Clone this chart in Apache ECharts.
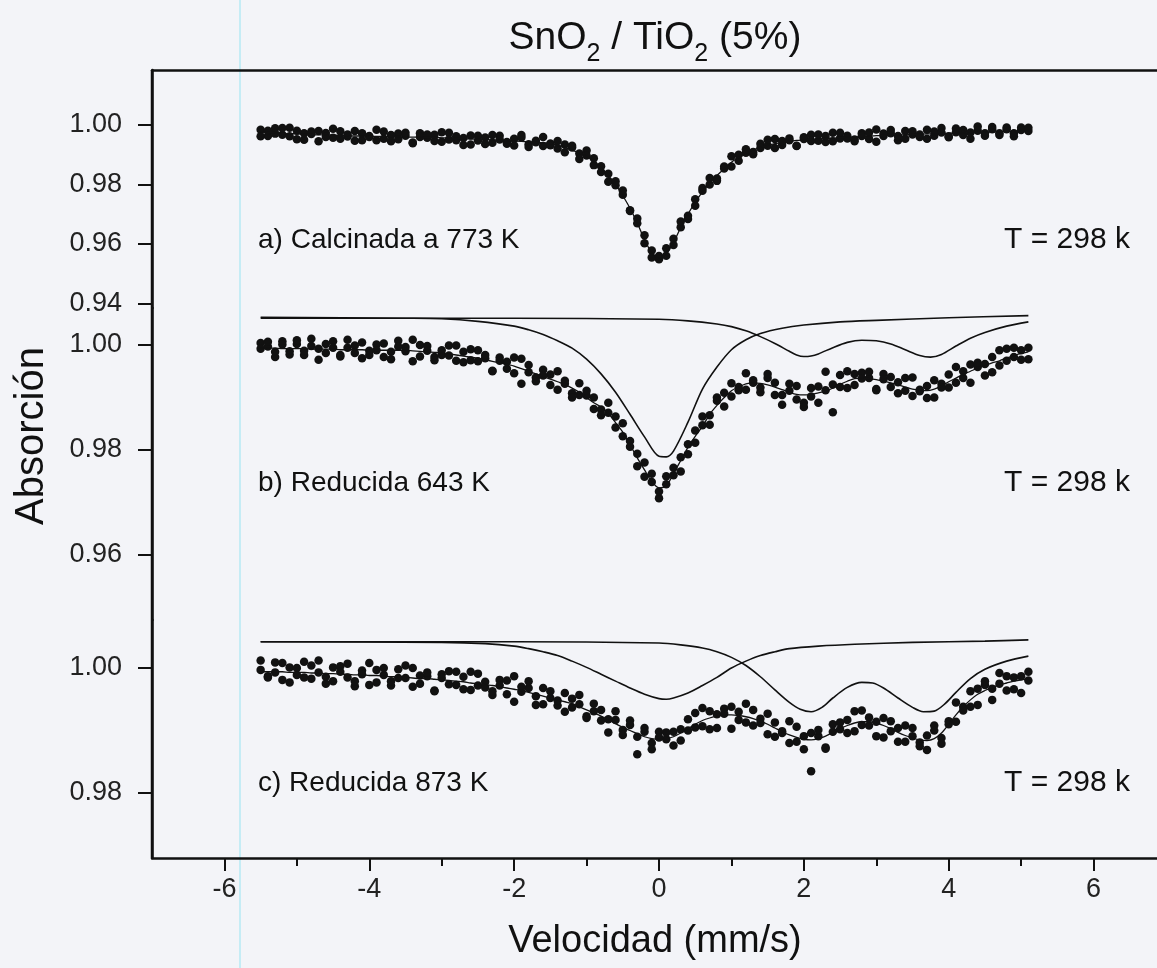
<!DOCTYPE html>
<html>
<head>
<meta charset="utf-8">
<script src="https://cdn.jsdelivr.net/npm/echarts@6.0.0/dist/echarts.min.js"></script>
<style>
  html, body { margin: 0; padding: 0; background: #f3f4f8; }
  #chart { width: 1157px; height: 968px; }
</style>
</head>
<body>
<div id="chart"></div>
<script>
// velocity channels (mm/s), shared by the three spectra
const velocity = [
  -5.5, -5.4, -5.3, -5.2, -5.1, -5.0, -4.9, -4.8, -4.7, -4.6,
  -4.5, -4.4, -4.3, -4.2, -4.1, -4.0, -3.9, -3.8, -3.7, -3.6,
  -3.5, -3.4, -3.3, -3.2, -3.1, -3.0, -2.9, -2.8, -2.7, -2.6,
  -2.5, -2.4, -2.3, -2.2, -2.1, -2.0, -1.9, -1.8, -1.7, -1.6,
  -1.5, -1.4, -1.3, -1.2, -1.1, -1.0, -0.9, -0.8, -0.7, -0.6,
  -0.5, -0.4, -0.3, -0.2, -0.1, 0.0, 0.1, 0.2, 0.3, 0.4,
  0.5, 0.6, 0.7, 0.8, 0.9, 1.0, 1.1, 1.2, 1.3, 1.4,
  1.5, 1.6, 1.7, 1.8, 1.9, 2.0, 2.1, 2.2, 2.3, 2.4,
  2.5, 2.6, 2.7, 2.8, 2.9, 3.0, 3.1, 3.2, 3.3, 3.4,
  3.5, 3.6, 3.7, 3.8, 3.9, 4.0, 4.1, 4.2, 4.3, 4.4,
  4.5, 4.6, 4.7, 4.8, 4.9, 5.0, 5.1
]

// a) Calcinada a 773 K
const absA1 = [
  .9984, .9963, .9989, .9967, .9991, .9952, .9972, .9978, .9945, .9973,
  .9957, .9979, .9961, .9980, .9949, .9963, .9984, .9954, .9945, .9971,
  .9964, .9939, .9972, .9957, .9967, .9944, .9974, .9949, .9956, .9934,
  .9964, .9958, .9940, .9964, .9943, .9931, .9966, .9935, .9947, .9929,
  .9938, .9946, .9908, .9924, .9904, .9914, .9865, .9861, .9809, .9811,
  .9765, .9713, .9685, .9602, .9578, .9548, .9585, .9596, .9656, .9684,
  .9750, .9788, .9800, .9812, .9860, .9895, .9880, .9907, .9902, .9937,
  .9930, .9953, .9933, .9949, .9929, .9959, .9967, .9947, .9943, .9974,
  .9955, .9964, .9945, .9972, .9953, .9985, .9963, .9972, .9949, .9980,
  .9968, .9960, .9984, .9964, .9990, .9959, .9976, .9983, .9954, .9981,
  .9972, .9993, .9966, .9986, .9972, .9992, .9980
]
const absA2 = [
  .9962, .9981, .9971, .9990, .9962, .9981, .9950, .9970, .9980, .9960,
  .9987, .9954, .9968, .9947, .9972, .9960, .9949, .9978, .9966, .9952,
  .9974, .9941, .9960, .9968, .9946, .9976, .9951, .9962, .9933, .9965,
  .9948, .9936, .9966, .9951, .9937, .9954, .9958, .9926, .9942, .9960,
  .9932, .9921, .9934, .9930, .9886, .9897, .9888, .9842, .9836, .9797,
  .9780, .9711, .9669, .9629, .9554, .9559, .9560, .9617, .9675, .9695,
  .9728, .9779, .9822, .9820, .9854, .9860, .9900, .9918, .9909, .9923,
  .9950, .9923, .9946, .9955, .9930, .9953, .9946, .9968, .9963, .9945,
  .9974, .9955, .9951, .9963, .9975, .9944, .9971, .9983, .9963, .9954,
  .9979, .9968, .9954, .9978, .9975, .9962, .9988, .9966, .9975, .9995,
  .9964, .9986, .9972, .9992, .9962, .9983, .9991
]
const fitA = [
  .9976, .9975, .9974, .9972, .9971, .9970, .9969, .9968, .9967, .9967,
  .9966, .9965, .9964, .9963, .9963, .9962, .9962, .9961, .9961, .9960,
  .9960, .9959, .9959, .9958, .9958, .9957, .9956, .9955, .9954, .9953,
  .9952, .9951, .9950, .9948, .9947, .9946, .9945, .9943, .9942, .9940,
  .9938, .9932, .9925, .9915, .9906, .9895, .9877, .9855, .9830, .9800,
  .9762, .9720, .9670, .9615, .9570, .9552, .9568, .9605, .9655, .9700,
  .9740, .9775, .9805, .9830, .9853, .9875, .9891, .9905, .9916, .9925,
  .9931, .9937, .9941, .9945, .9948, .9950, .9952, .9953, .9955, .9956,
  .9958, .9959, .9960, .9961, .9963, .9964, .9965, .9965, .9966, .9967,
  .9968, .9969, .9970, .9970, .9971, .9972, .9973, .9973, .9974, .9975,
  .9976, .9977, .9977, .9978, .9979, .9980, .9981
]

// b) Reducida 643 K
const absB1 = [
  1.0004, .9997, .9977, 1.0007, .9988, 1.0002, .9981, 1.0012, .9993, .9985,
  1.0007, .9981, .9995, .9999, .9975, .9989, 1.0001, .9977, .9987, 1.0008,
  .9996, .9969, 1.0000, .9989, .9977, .9981, .9999, .9970, .9987, .9992,
  .9969, .9975, .9951, .9976, .9968, .9946, .9974, .9948, .9938, .9953,
  .9944, .9915, .9926, .9908, .9927, .9904, .9878, .9877, .9890, .9864,
  .9826, .9817, .9769, .9776, .9739, .9708, .9750, .9752, .9786, .9792,
  .9837, .9847, .9848, .9900, .9909, .9902, .9914, .9946, .9928, .9910,
  .9937, .9928, .9905, .9913, .9922, .9890, .9902, .9921, .9949, .9925,
  .9920, .9950, .9924, .9947, .9937, .9916, .9945, .9920, .9929, .9937,
  .9903, .9912, .9922, .9900, .9926, .9919, .9958, .9937, .9963, .9958,
  .9942, .9977, .9961, .9993, .9977, .9990, .9973
]
const absB2 = [
  .9993, 1.0006, .9987, 1.0001, .9982, 1.0009, .9989, .9998, .9972, 1.0002,
  .9995, .9978, 1.0010, .9985, 1.0005, .9981, .9990, 1.0003, .9973, .9997,
  .9988, 1.0010, .9978, .9998, .9971, .9990, .9980, .9999, .9967, .9971,
  .9990, .9981, .9950, .9970, .9955, .9976, .9926, .9962, .9931, .9942,
  .9924, .9950, .9932, .9900, .9905, .9913, .9900, .9866, .9871, .9843,
  .9851, .9806, .9793, .9749, .9755, .9721, .9735, .9766, .9759, .9811,
  .9814, .9864, .9866, .9894, .9883, .9927, .9920, .9915, .9933, .9919,
  .9945, .9905, .9886, .9926, .9896, .9882, .9918, .9890, .9914, .9872,
  .9943, .9918, .9945, .9936, .9949, .9914, .9935, .9939, .9908, .9913,
  .9938, .9915, .9899, .9933, .9919, .9944, .9928, .9950, .9928, .9966,
  .9964, .9948, .9990, .9970, .9995, .9972, .9995
]
const fitB = [
  .9994, .9994, .9994, .9993, .9993, .9993, .9993, .9992, .9992, .9992,
  .9992, .9991, .9991, .9991, .9991, .9990, .9990, .9990, .9990, .9990,
  .9990, .9989, .9988, .9987, .9986, .9985, .9983, .9981, .9979, .9977,
  .9975, .9972, .9969, .9966, .9963, .9960, .9955, .9950, .9945, .9940,
  .9935, .9930, .9925, .9918, .9910, .9900, .9890, .9882, .9870, .9852,
  .9834, .9810, .9785, .9762, .9740, .9728, .9732, .9755, .9780, .9805,
  .9826, .9845, .9868, .9885, .9900, .9913, .9920, .9926, .9928, .9927,
  .9924, .9920, .9915, .9910, .9906, .9905, .9906, .9909, .9912, .9918,
  .9925, .9931, .9936, .9937, .9936, .9934, .9931, .9928, .9924, .9920,
  .9916, .9914, .9913, .9916, .9922, .9930, .9937, .9944, .9950, .9956,
  .9961, .9966, .9970, .9975, .9980, .9984, .9987
]
const singletVelB = [-5.5, -3.5, -3.0, -2.5, -2.0, -1.8, -1.6, -1.4, -1.2, -1.0, -0.8, -0.6, -0.4, -0.2, 0.0, 0.1, 0.2, 0.4, 0.6, 0.8, 1.0, 1.2, 1.4, 1.7, 2.0, 2.5, 3.0, 4.0, 5.1]
const singletB = [1.0053, 1.0051, 1.0050, 1.0045, 1.0036, 1.0029, 1.0020, 1.0008, 0.9994, 0.9973, 0.9945, 0.9910, 0.9868, 0.9825, 0.9788, 0.9787, 0.9798, 0.9853, 0.9916, 0.9958, 0.9991, 1.0010, 1.0022, 1.0032, 1.0038, 1.0044, 1.0047, 1.0052, 1.0056]
const doubletVelB = [-5.5, -2.0, 0.0, 0.4, 0.8, 1.0, 1.2, 1.4, 1.6, 1.8, 1.9, 2.0, 2.1, 2.2, 2.4, 2.6, 2.8, 3.0, 3.2, 3.4, 3.6, 3.75, 3.9, 4.1, 4.3, 4.5, 4.8, 5.1]
const doubletB = [1.0051, 1.0051, 1.0049, 1.0046, 1.0040, 1.0035, 1.0027, 1.0016, 1.0003, 0.9988, 0.9981, 0.9978, 0.9979, 0.9983, 0.9995, 1.0005, 1.0009, 1.0008, 1.0002, 0.9991, 0.9980, 0.9977, 0.9982, 0.9998, 1.0013, 1.0024, 1.0036, 1.0044]

// c) Reducida 873 K
const absC1 = [
  .9997, .9987, 1.0009, .9981, 1.0001, .9989, 1.0010, .9983, .9993, .9975,
  1.0001, 1.0003, .9985, .9971, .9996, 1.0008, .9977, .9989, .9972, .9998,
  .9984, 1.0000, .9975, .9987, .9963, .9990, .9995, .9973, .9966, .9994,
  .9972, .9978, .9957, .9981, .9958, .9987, .9962, .9968, .9941, .9968,
  .9952, .9940, .9960, .9937, .9957, .9920, .9931, .9933, .9897, .9917,
  .9901, .9916, .9862, .9898, .9880, .9898, .9886, .9898, .9884, .9918,
  .9905, .9936, .9902, .9926, .9935, .9903, .9930, .9913, .9933, .9912,
  .9927, .9890, .9899, .9915, .9882, .9870, .9896, .9891, .9871, .9910,
  .9902, .9917, .9899, .9932, .9908, .9914, .9889, .9915, .9904, .9882,
  .9904, .9881, .9869, .9908, .9888, .9915, .9914, .9938, .9963, .9941,
  .9973, .9967, .9992, .9964, .9985, .9960, .9994
]
const absC2 = [
  1.0012, .9985, .9993, 1.0008, .9977, 1.0000, .9985, 1.0004, 1.0012, .9986,
  .9979, .9994, 1.0007, .9979, .9990, .9973, .9997, 1.0000, .9979, .9984,
  1.0004, .9970, .9988, .9993, .9964, .9984, .9974, .9994, .9986, .9965,
  .9991, .9969, .9963, .9972, .9980, .9946, .9970, .9979, .9955, .9942,
  .9963, .9948, .9930, .9951, .9942, .9923, .9943, .9916, .9918, .9931,
  .9893, .9909, .9890, .9904, .9870, .9889, .9897, .9876, .9902, .9900,
  .9928, .9907, .9931, .9904, .9927, .9938, .9917, .9943, .9908, .9919,
  .9894, .9913, .9896, .9880, .9906, .9891, .9835, .9901, .9873, .9898,
  .9913, .9896, .9931, .9909, .9921, .9891, .9920, .9899, .9882, .9908,
  .9891, .9875, .9892, .9900, .9879, .9910, .9945, .9932, .9938, .9967,
  .9979, .9949, .9975, .9987, .9966, .9987, .9980
]
const fitC = [
  .9994, .9994, .9994, .9994, .9993, .9993, .9993, .9992, .9992, .9991,
  .9991, .9990, .9990, .9989, .9989, .9988, .9988, .9987, .9986, .9986,
  .9985, .9984, .9983, .9983, .9982, .9981, .9980, .9979, .9978, .9976,
  .9975, .9973, .9972, .9970, .9968, .9966, .9964, .9961, .9958, .9955,
  .9952, .9949, .9946, .9943, .9938, .9933, .9928, .9923, .9917, .9911,
  .9905, .9900, .9895, .9890, .9887, .9886, .9887, .9890, .9896, .9903,
  .9910, .9916, .9920, .9923, .9925, .9925, .9924, .9922, .9919, .9915,
  .9910, .9904, .9898, .9893, .9889, .9886, .9885, .9887, .9891, .9897,
  .9903, .9908, .9912, .9914, .9914, .9912, .9908, .9903, .9897, .9892,
  .9888, .9885, .9884, .9887, .9896, .9910, .9925, .9938, .9949, .9958,
  .9964, .9969, .9973, .9976, .9979, .9981, .9983
]
const singletVelC = [-5.5, -3.0, -2.4, -2.0, -1.8, -1.6, -1.4, -1.2, -1.0, -0.8, -0.6, -0.4, -0.2, 0.0, 0.1, 0.2, 0.4, 0.6, 0.8, 1.0, 1.2, 1.4, 1.6, 1.8, 2.2, 2.7, 3.5, 4.5, 5.1]
const singletC = [1.0042, 1.0041, 1.0039, 1.0035, 1.0031, 1.0026, 1.0020, 1.0011, 1.0001, 0.9990, 0.9979, 0.9968, 0.9958, 0.9951, 0.9950, 0.9952, 0.9960, 0.9972, 0.9985, 1.0000, 1.0011, 1.0020, 1.0026, 1.0031, 1.0035, 1.0038, 1.0041, 1.0043, 1.0045]
const doubletVelC = [-5.5, -2.0, 0.0, 0.3, 0.6, 0.8, 1.0, 1.2, 1.4, 1.6, 1.8, 1.95, 2.1, 2.25, 2.4, 2.6, 2.8, 2.95, 3.1, 3.3, 3.5, 3.65, 3.8, 3.95, 4.1, 4.3, 4.5, 4.8, 5.1]
const doubletC = [1.0042, 1.0042, 1.0040, 1.0037, 1.0032, 1.0026, 1.0017, 1.0004, 0.9986, 0.9965, 0.9945, 0.9934, 0.9930, 0.9937, 0.9952, 0.9969, 0.9977, 0.9976, 0.9968, 0.9952, 0.9937, 0.9930, 0.9931, 0.9943, 0.9961, 0.9983, 0.9998, 1.0011, 1.0019]

// axis ticks
const xTicks = [-6, -4, -2, 0, 2, 4, 6]
const xMinorTicks = [-5, -3, -1, 1, 3, 5]
const yTicksA = [0.94, 0.96, 0.98, 1.00]
const yTicksB = [0.96, 0.98, 1.00]
const yTicksC = [0.98, 1.00]

const panelLabels = ['a) Calcinada a 773 K', 'b) Reducida 643 K', 'c) Reducida 873 K']
const tempLabel = 'T = 298 k'

const ink = '#111'
const fontFamily = '"Liberation Sans", Arial, sans-serif'
const chart = echarts.init(document.getElementById('chart'))

const pairs = (xs, ys) => xs.map((x, i) => [x, ys[i]])

function dots (idx, ys) {
  return {
    type: 'scatter',
    xAxisIndex: idx,
    yAxisIndex: idx,
    data: pairs(velocity, ys),
    symbolSize: 8.5,
    itemStyle: { color: ink, opacity: 1 },
    silent: true,
    z: 2
  }
}

function curve (idx, xs, ys, width) {
  return {
    type: 'line',
    xAxisIndex: idx,
    yAxisIndex: idx,
    data: pairs(xs, ys),
    symbol: 'none',
    smooth: 0.3,
    lineStyle: { color: ink, width },
    silent: true,
    z: 3
  }
}

function yAxis (gridIndex, min, max, ticks) {
  return {
    type: 'value',
    gridIndex,
    min,
    max,
    axisLine: { show: true, onZero: false, lineStyle: { color: ink, width: 2.5 } },
    axisTick: { show: true, customValues: ticks, length: 14, lineStyle: { color: ink, width: 2 } },
    axisLabel: {
      customValues: ticks,
      formatter: v => v.toFixed(2),
      fontSize: 27,
      fontFamily,
      color: '#222',
      margin: 30
    },
    splitLine: { show: false }
  }
}

// title with subscripts, pieces measured so they sit side by side
const ctx = document.createElement('canvas').getContext('2d')
const titleFont = '39px ' + fontFamily
const subFont = '25px ' + fontFamily
const titleParts = [['SnO', false], ['2', true], [' / TiO', false], ['2', true], [' (5%)', false]]
const widths = titleParts.map(p => {
  ctx.font = p[1] ? subFont : titleFont
  return ctx.measureText(p[0]).width
})
let cursor = 655 - widths.reduce((a, b) => a + b, 0) / 2
const titleGraphics = titleParts.map((p, i) => {
  const el = {
    type: 'text',
    x: cursor,
    y: p[1] ? 54 : 38,
    silent: true,
    style: { text: p[0], font: p[1] ? subFont : titleFont, fill: ink, textAlign: 'left', textVerticalAlign: 'middle', align: 'left', verticalAlign: 'middle' }
  }
  cursor += widths[i]
  return el
})

function label (text, x, y, size) {
  return {
    type: 'text',
    x,
    y,
    silent: true,
    style: { text, font: size + 'px ' + fontFamily, fill: ink, textAlign: 'left', textVerticalAlign: 'middle', align: 'left', verticalAlign: 'middle' }
  }
}

const labelRows = [240, 483, 783]

const gridBase = { left: 152, width: 1014, outerBoundsMode: 'none', containLabel: false }

const option = {
  backgroundColor: '#f3f4f8',
  animation: false,
  grid: [
    Object.assign({ top: 70, height: 238 }, gridBase),
    Object.assign({ top: 308, height: 312 }, gridBase),
    Object.assign({ top: 620, height: 238 }, gridBase)
  ],
  xAxis: [
    {
      type: 'value', gridIndex: 0, min: -7, max: 7, position: 'top',
      axisLine: { show: true, onZero: false, lineStyle: { color: ink, width: 2.5 } },
      axisTick: { show: false }, axisLabel: { show: false }, splitLine: { show: false }
    },
    {
      type: 'value', gridIndex: 1, min: -7, max: 7, show: false
    },
    {
      type: 'value', gridIndex: 2, min: -7, max: 7, position: 'bottom',
      axisLine: { show: true, onZero: false, lineStyle: { color: ink, width: 2.5 } },
      axisTick: { show: true, customValues: xTicks, length: 13, lineStyle: { color: ink, width: 2 } },
      axisLabel: { customValues: xTicks, fontSize: 27, fontFamily, color: '#222', margin: 18 },
      splitLine: { show: false }
    },
    {
      type: 'value', gridIndex: 2, min: -7, max: 7, position: 'bottom',
      axisLine: { show: false },
      axisTick: { show: true, customValues: xMinorTicks, length: 8, lineStyle: { color: ink, width: 2 } },
      axisLabel: { show: false },
      splitLine: { show: false }
    }
  ],
  yAxis: [
    yAxis(0, 0.93842, 1.01851, yTicksA),
    yAxis(1, 0.94762, 1.00705, yTicksB),
    yAxis(2, 0.9696, 1.00768, yTicksC)
  ],
  series: [
    dots(0, absA1),
    dots(0, absA2),
    curve(0, velocity, fitA, 1.3),
    dots(1, absB1),
    dots(1, absB2),
    curve(1, velocity, fitB, 1.3),
    curve(1, singletVelB, singletB, 1.6),
    curve(1, doubletVelB, doubletB, 1.6),
    dots(2, absC1),
    dots(2, absC2),
    curve(2, velocity, fitC, 1.3),
    curve(2, singletVelC, singletC, 1.6),
    curve(2, doubletVelC, doubletC, 1.6)
  ],
  graphic: [
    {
      type: 'line', silent: true, z: -10,
      shape: { x1: 240, y1: 0, x2: 240, y2: 968 },
      style: { stroke: 'rgba(140, 225, 240, 0.6)', lineWidth: 1.5 }
    },
    {
      // continuous left frame edge behind the three stacked y axes
      type: 'line', silent: true,
      shape: { x1: 152, y1: 70, x2: 152, y2: 858 },
      style: { stroke: ink, lineWidth: 2.5 }
    },
    ...titleGraphics,
    {
      type: 'text', x: 655, y: 942, silent: true,
      style: { text: 'Velocidad (mm/s)', font: '38px ' + fontFamily, fill: ink, textAlign: 'center', textVerticalAlign: 'middle', align: 'center', verticalAlign: 'middle' }
    },
    {
      type: 'text', x: 32, y: 436, rotation: Math.PI / 2, silent: true,
      style: { text: 'Absorción', font: '40px ' + fontFamily, fill: ink, textAlign: 'center', textVerticalAlign: 'middle', align: 'center', verticalAlign: 'middle' }
    },
    ...panelLabels.map((t, i) => label(t, 258, labelRows[i], 28)),
    ...labelRows.map(y => label(tempLabel, 1004, y, 30))
  ]
}

chart.setOption(option)
</script>
</body>
</html>
